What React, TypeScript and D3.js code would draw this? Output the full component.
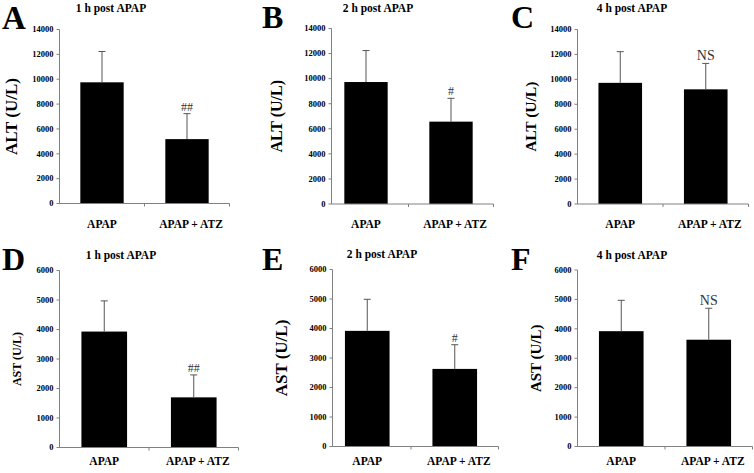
import React from "react";
import * as d3 from "d3";

const categories = ["APAP", "APAP + ATZ"];
const altTicks = [0, 2000, 4000, 6000, 8000, 10000, 12000, 14000];
const astTicks = [0, 1000, 2000, 3000, 4000, 5000, 6000];

const altMean1h = [9750, 5180];
const altSd1h = [2480, 2050];
const altMean2h = [9730, 6570];
const altSd2h = [2510, 1860];
const altMean4h = [9720, 9200];
const altSd4h = [2500, 2080];
const astMean1h = [3930, 1700];
const astSd1h = [1040, 760];
const astMean2h = [3920, 2630];
const astSd2h = [1070, 820];
const astMean4h = [3920, 3630];
const astSd4h = [1050, 1070];

const marks1h = ["", "##"];
const marks2h = ["", "#"];
const marks4h = ["", "NS"];

const panelLetters = ["A", "B", "C", "D", "E", "F"];
const panelTitles = ["1 h post APAP", "2 h post APAP", "4 h post APAP", "1 h post APAP", "2 h post APAP", "4 h post APAP"];
const yLabels = ["ALT (U/L)", "ALT (U/L)", "ALT (U/L)", "AST (U/L)", "AST (U/L)", "AST (U/L)"];

const FONT = "'Liberation Serif', 'Times New Roman', serif";

type Panel = {
  letter: string;
  title: string;
  yLabel: string;
  means: number[];
  sds: number[];
  marks: string[];
  ticks: number[];
  max: number;
  axisX: number; x0: number; x1: number; yTop: number; yBot: number;
  letterX: number; letterY: number; letterSize: number;
  labelX: number; labelSize: number;
  titleX: number; titleY: number;
  catY: number;
};

const panels: Panel[] = [
  { letter: panelLetters[0], title: panelTitles[0], yLabel: yLabels[0], means: altMean1h, sds: altSd1h, marks: marks1h, ticks: altTicks, max: 14000,
    axisX: 59.5, x0: 59.5, x1: 229.5, yTop: 29.5, yBot: 203.5, letterX: 2, letterY: 29, letterSize: 33, labelX: 17, labelSize: 17, titleX: 111, titleY: 12, catY: 228 },
  { letter: panelLetters[1], title: panelTitles[1], yLabel: yLabels[1], means: altMean2h, sds: altSd2h, marks: marks2h, ticks: altTicks, max: 14000,
    axisX: 331.5, x0: 323.5, x1: 493.5, yTop: 28.5, yBot: 204, letterX: 262, letterY: 28, letterSize: 32, labelX: 282, labelSize: 16, titleX: 378, titleY: 12, catY: 228 },
  { letter: panelLetters[2], title: panelTitles[2], yLabel: yLabels[2], means: altMean4h, sds: altSd4h, marks: marks4h, ticks: altTicks, max: 14000,
    axisX: 577.5, x0: 577.5, x1: 748.5, yTop: 29.5, yBot: 204, letterX: 511, letterY: 28, letterSize: 32, labelX: 536, labelSize: 15.5, titleX: 632, titleY: 12, catY: 228 },
  { letter: panelLetters[3], title: panelTitles[3], yLabel: yLabels[3], means: astMean1h, sds: astSd1h, marks: marks1h, ticks: astTicks, max: 6000,
    axisX: 59.5, x0: 59.5, x1: 238.5, yTop: 270.5, yBot: 447.5, letterX: 2, letterY: 270, letterSize: 32, labelX: 21, labelSize: 12, titleX: 121, titleY: 259, catY: 465 },
  { letter: panelLetters[4], title: panelTitles[4], yLabel: yLabels[4], means: astMean2h, sds: astSd2h, marks: marks2h, ticks: astTicks, max: 6000,
    axisX: 332.5, x0: 323.5, x1: 498.5, yTop: 269.5, yBot: 446.5, letterX: 262, letterY: 270, letterSize: 32, labelX: 287, labelSize: 17, titleX: 382, titleY: 258, catY: 465 },
  { letter: panelLetters[5], title: panelTitles[5], yLabel: yLabels[5], means: astMean4h, sds: astSd4h, marks: marks4h, ticks: astTicks, max: 6000,
    axisX: 577.5, x0: 577.5, x1: 752.5, yTop: 270, yBot: 446.5, letterX: 511, letterY: 270, letterSize: 32, labelX: 541, labelSize: 15, titleX: 632, titleY: 259, catY: 465 },
];

function PanelView({ p }: { p: Panel }) {
  const x = d3.scaleBand<string>().domain(categories).range([p.x0, p.x1]).paddingInner(0.49).paddingOuter(0.245);
  const y = d3.scaleLinear().domain([0, p.max]).range([p.yBot, p.yTop]);
  const axisColor = "#808080";
  const labelY = (p.yTop + p.yBot) / 2;
  return (
    <g>
      <text x={p.letterX} y={p.letterY} fontFamily={FONT} fontWeight="bold" fontSize={p.letterSize}>{p.letter}</text>
      <text x={p.titleX} y={p.titleY} textAnchor="middle" fontFamily={FONT} fontWeight="bold" fontSize={11.5}>{p.title}</text>
      <text transform={`translate(${p.labelX},${labelY}) rotate(-90)`} textAnchor="middle" fontFamily={FONT} fontWeight="bold" fontSize={p.labelSize}>{p.yLabel}</text>
      {/* y axis */}
      <line x1={p.axisX} x2={p.axisX} y1={p.yTop} y2={p.yBot} stroke={axisColor} strokeWidth={1} />
      {p.ticks.map((t) => (
        <g key={t}>
          <line x1={p.axisX - 3} x2={p.axisX} y1={y(t)} y2={y(t)} stroke={axisColor} strokeWidth={1} />
          <text x={p.axisX - 6} y={y(t)} dy="0.33em" textAnchor="end" fontFamily={FONT} fontWeight="bold" fontSize={8.5}>{t}</text>
        </g>
      ))}
      {/* bars */}
      {categories.map((c, i) => {
        const bx = x(c)!;
        const bw = x.bandwidth();
        const cx = bx + bw / 2;
        const top = y(p.means[i]);
        const errTop = y(p.means[i] + p.sds[i]);
        return (
          <g key={c}>
            <rect x={bx} y={top} width={bw} height={p.yBot - top} fill="#000" />
            <line x1={cx} x2={cx} y1={top} y2={errTop} stroke="#555" strokeWidth={1} />
            <line x1={cx - 3.5} x2={cx + 3.5} y1={errTop} y2={errTop} stroke="#555" strokeWidth={1} />
            {p.marks[i] && (
              <text x={cx} y={errTop - 3} textAnchor="middle" fontFamily={FONT} fontSize={p.marks[i] === "NS" ? 14 : 12} fill="#333">{p.marks[i]}</text>
            )}
            <text x={cx + (i === 1 ? 4 : 0)} y={p.catY} textAnchor="middle" fontFamily={FONT} fontWeight="bold" fontSize={11.5}>{c}</text>
          </g>
        );
      })}
      {/* x axis */}
      <line x1={p.axisX} x2={p.x1} y1={p.yBot} y2={p.yBot} stroke={axisColor} strokeWidth={1} />
      {categories.map((c) => {
        const tx = x(c)! + x.bandwidth() + (x.step() - x.bandwidth()) / 2;
        return <line key={c} x1={tx} x2={tx} y1={p.yBot} y2={p.yBot + 3} stroke={axisColor} strokeWidth={1} />;
      })}
    </g>
  );
}

export default function App() {
  return (
    <svg width={754} height={473} style={{ position: "absolute", left: 0, top: 0, background: "#fff" }}>
      <rect width={754} height={473} fill="#fff" />
      {panels.map((p) => (
        <PanelView key={p.letter} p={p} />
      ))}
    </svg>
  );
}
